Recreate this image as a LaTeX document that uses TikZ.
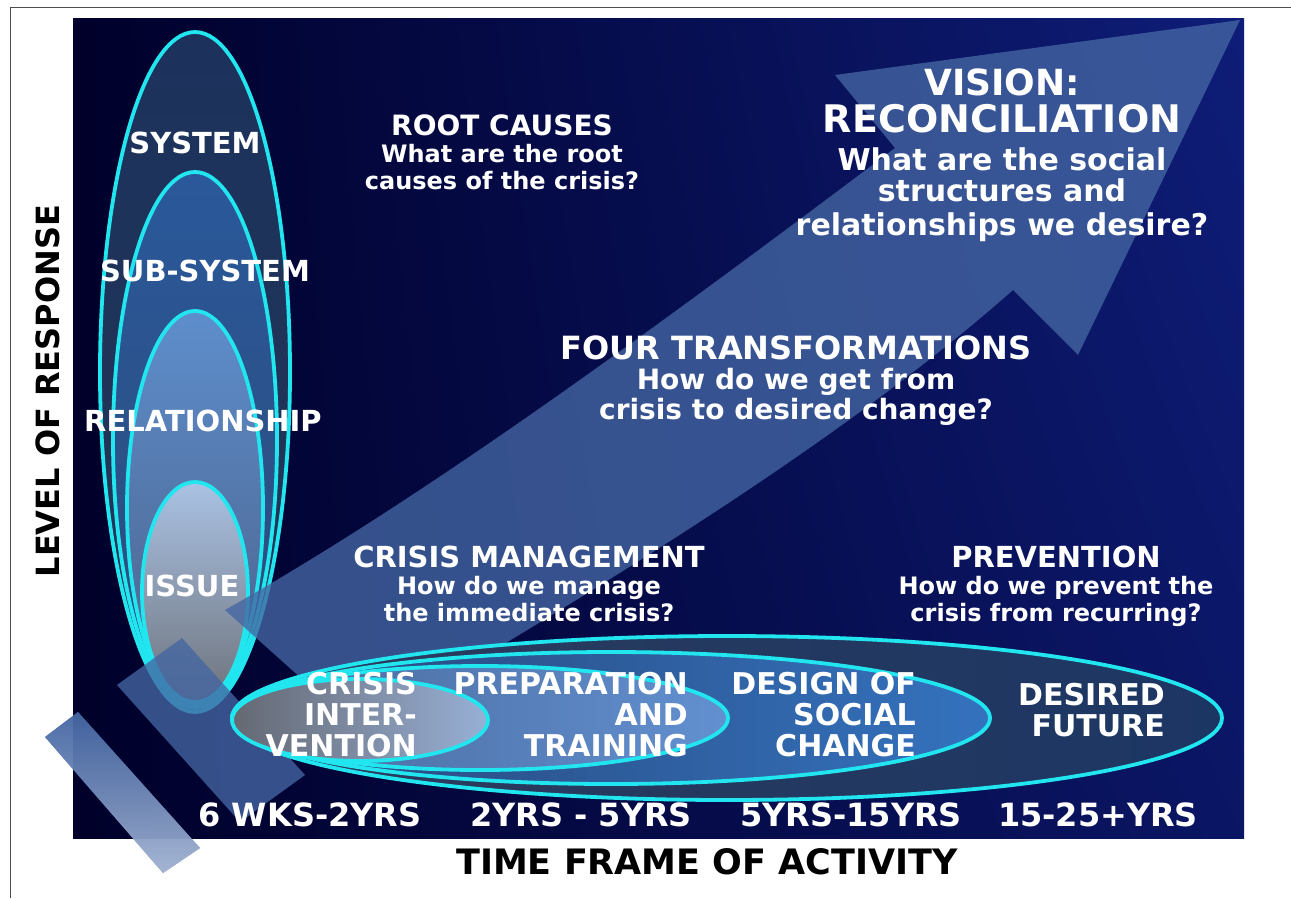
\documentclass[tikz,border=0pt]{standalone}
\usepackage{fontspec}
\setmainfont{DejaVu Sans}
\usetikzlibrary{positioning,shadings}

\definecolor{bgdark}{HTML}{00002A}
\definecolor{bgblue}{HTML}{0E1D78}
\definecolor{ringline}{HTML}{22E6EF}
\definecolor{arrowfill}{HTML}{4466A3}

\tikzset{
  ring/.style={draw=ringline, line width=3.8pt},
  lvltext/.style={text=white, font=\bfseries\fontsize{29}{31}\selectfont, inner sep=0pt},
  steptext/.style={text=white, font=\bfseries\fontsize{30}{31}\selectfont, inner sep=0pt, align=right, anchor=north east},
  asktext/.style={text=white, font=\bfseries\fontsize{24}{27}\selectfont, inner sep=0pt, align=center, anchor=north},
  yeartext/.style={text=white, font=\bfseries\fontsize{32}{34}\selectfont, inner sep=0pt},
  axistext/.style={text=black, font=\bfseries\fontsize{35}{37}\selectfont, inner sep=0pt},
  stripe/.style={fill=arrowfill, fill opacity=0.78}
}

\begin{document}
\begin{tikzpicture}[x=1pt, y=-1pt]
\useasboundingbox (0,0) rectangle (1291,898);
\fill[white] (0,0) rectangle (1291,898);
% page frame
\draw[gray!60!black, line width=1pt] (10,898) -- (10,7) -- (1291,7);
% backdrop
\shade[upper left=bgdark, lower left=bgdark, upper right=bgblue, lower right=bgblue!75!bgdark] (73,18) rectangle (1244,838);

% level of response, outer to inner
\draw[ring, top color={rgb,255:red,28;green,50;blue,92}, bottom color={rgb,255:red,36;green,54;blue,86}] (195,372) ellipse [x radius=95, y radius=340];
\draw[ring, top color={rgb,255:red,42;green,88;blue,154}, bottom color={rgb,255:red,45;green,76;blue,122}] (195,440) ellipse [x radius=82, y radius=268];
\draw[ring, top color={rgb,255:red,94;green,142;blue,204}, bottom color={rgb,255:red,74;green,96;blue,136}] (195,508) ellipse [x radius=68, y radius=197];
\draw[ring, top color={rgb,255:red,170;green,194;blue,228}, bottom color={rgb,255:red,110;green,115;blue,124}] (195,592) ellipse [x radius=53, y radius=110];

% the big arrow and its two stripes
\fill[stripe, top color=arrowfill, bottom color=arrowfill!40!white] (45,737) -- (78,712) -- (200,848) -- (163,873) -- cycle;
\fill[stripe] (117,685) -- (182,638) -- (305,775) -- (240,822) -- cycle;
\fill[stripe] (225,610) .. controls (420,500) and (640,340) .. (895,148) -- (835,75) -- (1240,20)
  -- (1078,355) -- (1013,290) .. controls (860,425) and (650,560) .. (359,730) -- cycle;

% time frame, outer to inner
\draw[ring, left color={rgb,255:red,44;green,60;blue,92}, right color={rgb,255:red,28;green,54;blue,100}] (727,718) ellipse [x radius=495, y radius=82];
\draw[ring, left color={rgb,255:red,40;green,70;blue,120}, right color={rgb,255:red,52;green,114;blue,190}] (611,718) ellipse [x radius=379, y radius=66];
\draw[ring, left color={rgb,255:red,72;green,104;blue,154}, right color={rgb,255:red,98;green,144;blue,208}] (480,718) ellipse [x radius=248, y radius=52];
\draw[ring, left color={rgb,255:red,100;green,104;blue,114}, right color={rgb,255:red,152;green,176;blue,214}] (360,720) ellipse [x radius=128, y radius=41];

% labels inside the rings
\node[lvltext] (system) at (195,143) {SYSTEM};
\node[lvltext] (subsystem) at (205,271) {SUB-SYSTEM};
\node[lvltext] (relation) at (203,421) {RELATIONSHIP};
\node[lvltext] (issue) at (192,586) {ISSUE};

\node[steptext] (crisis) at (417,672) {CRISIS\\INTER-\\VENTION};
\node[steptext] (prep) at (688,672) {PREPARATION\\AND\\TRAINING};
\node[steptext] (design) at (916,672) {DESIGN OF\\SOCIAL\\CHANGE};
\node[steptext] (future) at (1165,683) {DESIRED\\FUTURE};

% questions
\node[asktext] (root) at (502,115) {{\fontsize{28}{30}\selectfont ROOT CAUSES}\\What are the root\\causes of the crisis?};
\node[asktext, font=\bfseries\fontsize{30}{33}\selectfont] (vision) at (1002,69)
  {{\fontsize{36}{37}\selectfont VISION:}\\[4pt]{\fontsize{38}{40}\selectfont RECONCILIATION}\\[5pt]What are the social\\[-2pt]structures and\\[1pt]relationships we desire?};
\node[asktext, font=\bfseries\fontsize{28}{30}\selectfont] (four) at (796,336)
  {{\fontsize{32}{33}\selectfont FOUR TRANSFORMATIONS}\\How do we get from\\crisis to desired change?};
\node[asktext] (manage) at (529,546) {{\fontsize{29}{30}\selectfont CRISIS MANAGEMENT}\\How do we manage\\the immediate crisis?};
\node[asktext] (prevent) at (1056,546) {{\fontsize{29}{30}\selectfont PREVENTION}\\How do we prevent the\\crisis from recurring?};

% years
\node[yeartext] (y1) at (310,815) {6 WKS-2YRS};
\node[yeartext] (y2) at (581,815) {2YRS - 5YRS};
\node[yeartext] (y3) at (851,815) {5YRS-15YRS};
\node[yeartext] (y4) at (1098,815) {15-25+YRS};

% axes
\node[axistext] (xlabel) at (707,862) {TIME FRAME OF ACTIVITY};
\node[axistext, rotate=90, font=\bfseries\fontsize{32}{34}\selectfont] (ylabel) at (48,391) {LEVEL OF RESPONSE};
\end{tikzpicture}
\end{document}
